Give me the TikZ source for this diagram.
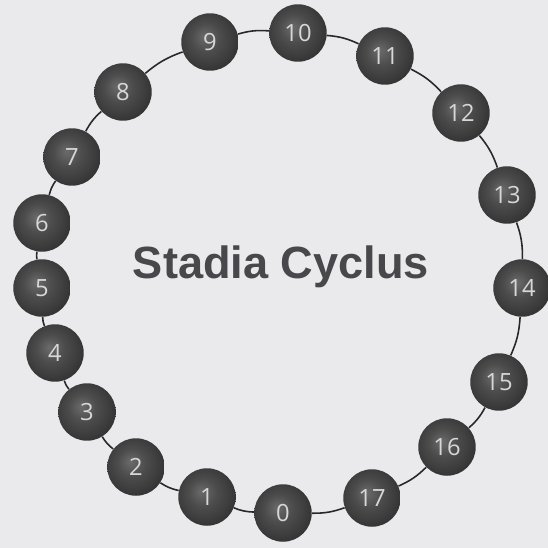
\documentclass[tikz,border=0pt]{standalone}
\usepackage{fontspec}
\setmainfont{Liberation Sans}
\newfontfamily\digitfont{Open Sans}
\usepackage{tikz}
\usetikzlibrary{positioning}

\definecolor{paper}{RGB}{234,234,237}
\definecolor{titlegray}{RGB}{72,72,76}
\definecolor{ringline}{RGB}{40,40,42}
\definecolor{digitgray}{RGB}{215,215,215}

\pgfdeclareradialshading{darkball}{\pgfpoint{-5bp}{5bp}}{%
  color(0bp)=(black!58); color(12bp)=(black!70); color(22bp)=(black!76);
  color(28bp)=(black!80); color(50bp)=(black!80)}

\begin{document}
\begin{tikzpicture}[x=0.02cm,y=-0.02cm,
    stage/.style={circle,minimum size=1.15cm,inner sep=0pt,shading=darkball,
      text=digitgray,font=\digitfont\fontsize{13.5}{13.5}\selectfont},
    ring/.style={draw=ringline,line width=0.9pt,bend left=10}]
    \fill[paper] (0,0) rectangle (548,548);
    \useasboundingbox (0,0) rectangle (548,548);

    \node[font=\bfseries\fontsize{25.7}{25.7}\selectfont,text=titlegray,anchor=base]
        (title) at (281,278) {Stadia Cyclus};

    % ring of stages, 0 at the bottom
    \node[stage] (s0)  at (283,513) {0};
    \node[stage] (s1)  at (207,497) {1};
    \node[stage] (s2)  at (136,467) {2};
    \node[stage] (s3)  at (87,412)  {3};
    \node[stage] (s4)  at (55,353)  {4};
    \node[stage] (s5)  at (42,288)  {5};
    \node[stage] (s6)  at (42,223)  {6};
    \node[stage] (s7)  at (72,157)  {7};
    \node[stage] (s8)  at (123,92)  {8};
    \node[stage] (s9)  at (210,42)  {9};
    \node[stage] (s10) at (298,33)  {10};
    \node[stage] (s11) at (385,56)  {11};
    \node[stage] (s12) at (461,113) {12};
    \node[stage] (s13) at (507,195) {13};
    \node[stage] (s14) at (522,288) {14};
    \node[stage] (s15) at (499,382) {15};
    \node[stage] (s16) at (447,447) {16};
    \node[stage] (s17) at (372,498) {17};

    \path[ring] (s0) edge (s1) (s1) edge (s2) (s2) edge (s3) (s3) edge (s4)
        (s4) edge (s5) (s5) edge (s6) (s6) edge (s7) (s7) edge (s8)
        (s8) edge (s9) (s9) edge (s10) (s10) edge (s11) (s11) edge (s12)
        (s12) edge (s13) (s13) edge (s14) (s14) edge (s15) (s15) edge (s16)
        (s16) edge (s17) (s17) edge (s0);
\end{tikzpicture}
\end{document}
